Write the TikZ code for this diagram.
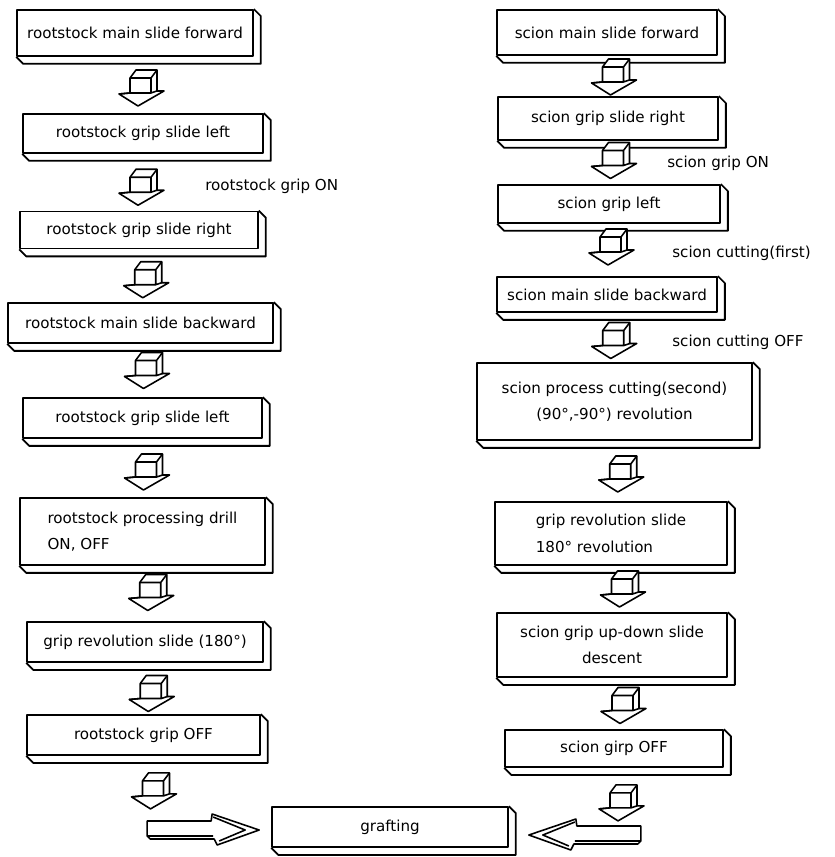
\documentclass[tikz,border=0pt]{standalone}
\usepackage{fontspec}
\setmainfont{DejaVu Sans}
\usetikzlibrary{calc, positioning}

\begin{document}
\begin{tikzpicture}[x=0.02cm, y=-0.02cm, line join=round,
	pics/blockdown/.style={code={
		\filldraw[line width=0.9pt, fill=white] (-10,-10) -- (-4,-18) -- (17,-18) -- (17,3) -- (24,3) -- (-2,18) -- (-21,6) -- (-10,5) -- cycle;
		\draw[line width=0.9pt] (-10,-10) -- (11,-10) -- (17,-18) (11,-10) -- (11,5) (-21,6) -- (-10,5) -- (11,5) -- (17,3);
	}},
	pics/blockright/.style={code={
		\filldraw[line width=0.9pt, fill=white] (-112,-9) -- (-48,-9) -- (-47,-16) -- (0,0) -- (-42,15) -- (-45,9) -- (-109,9) -- (-112,6) -- cycle;
		\draw[line width=0.9pt] (-112,6) -- (-46,6) (-46,-13) -- (-14,0) -- (-40,11);
	}}]
	\tikzstyle{stage} = [draw, line width=1pt, fill=white, inner sep=0pt, font=\fontsize{8.6}{15}\selectfont]
	\tikzstyle{note} = [anchor=west, inner sep=0pt, font=\fontsize{8.6}{15}\selectfont]

	\useasboundingbox (0,0) rectangle (834,857);

	% rootstock side
	\node[stage, minimum width=4.72cm, minimum height=0.92cm] (L1) at (135,33) {rootstock main slide forward};
	\node[stage, minimum width=4.8cm, minimum height=0.78cm] (L2) at (143,133.5) {rootstock grip slide left};
	\node[stage, minimum width=4.76cm, minimum height=0.74cm] (L3) at (139,230) {rootstock grip slide right};
	\node[stage, minimum width=5.3cm, minimum height=0.8cm] (L4) at (140.5,323) {rootstock main slide backward};
	\node[stage, minimum width=4.78cm, minimum height=0.8cm] (L5) at (142.5,418) {rootstock grip slide left};
	\node[stage, minimum width=4.9cm, minimum height=1.34cm, align=left] (L6) at (142.5,531.5) {rootstock processing drill\\ON, OFF};
	\node[stage, minimum width=4.72cm, minimum height=0.8cm] (L7) at (145,642) {grip revolution slide (180°)};
	\node[stage, minimum width=4.66cm, minimum height=0.8cm] (L8) at (143.5,735) {rootstock grip OFF};

	% scion side
	\node[stage, minimum width=4.4cm, minimum height=0.9cm] (R1) at (607,32.5) {scion main slide forward};
	\node[stage, minimum width=4.4cm, minimum height=0.86cm] (R2) at (608,118.5) {scion grip slide right};
	\node[stage, minimum width=4.44cm, minimum height=0.76cm] (R3) at (609,204) {scion grip left};
	\node[stage, minimum width=4.4cm, minimum height=0.7cm] (R4) at (607,294.5) {scion main slide backward};
	\node[stage, minimum width=5.5cm, minimum height=1.54cm, align=center] (R5) at (614.5,401.5) {scion process cutting(second)\\(90°,-90°) revolution};
	\node[stage, minimum width=4.64cm, minimum height=1.26cm, align=left] (R6) at (611,533.5) {grip revolution slide\\180° revolution};
	\node[stage, minimum width=4.6cm, minimum height=1.28cm, align=center] (R7) at (612,645) {scion grip up-down slide\\descent};
	\node[stage, minimum width=4.36cm, minimum height=0.74cm] (R8) at (614,748.5) {scion girp OFF};

	\node[stage, minimum width=4.72cm, minimum height=0.8cm] (G) at (390,827) {grafting};

	% depth of the boxes
	\foreach \n in {L1,L2,L3,L4,L5,L6,L7,L8,R1,R2,R3,R4,R5,R6,R7,R8,G}
		\draw[line width=1pt] (\n.north east) -- ++(7,7) -- ($(\n.south east)+(7,7)$) -- ($(\n.south west)+(7,7)$) -- (\n.south west);

	% block arrows
	\pic at ($(L1.south)!.5!(L2.north)+(1,3)$) {blockdown};
	\pic at ($(L2.south)!.5!(L3.north)+(-1,5)$) {blockdown};
	\pic at ($(L3.south)!.5!(L4.north)+(5,4)$) {blockdown};
	\pic at ($(L4.south)!.5!(L5.north)+(4,0)$) {blockdown};
	\pic at ($(L5.south)!.5!(L6.north)+(3,4)$) {blockdown};
	\pic at ($(L6.south)!.5!(L7.north)+(6,-1)$) {blockdown};
	\pic at ($(L7.south)!.5!(L8.north)+(6,5)$) {blockdown};
	\pic at ($(L8.south)+(9,35)$) {blockdown};

	\pic at ($(R1.south)!.5!(R2.north)+(5,1)$) {blockdown};
	\pic at ($(R2.south)!.5!(R3.north)+(4,-2)$) {blockdown};
	\pic at ($(R3.south)!.5!(R4.north)+(2,-3)$) {blockdown};
	\pic at ($(R4.south)!.5!(R5.north)+(2,3)$) {blockdown};
	\pic at ($(R5.south)!.5!(R6.north)+(7,3)$) {blockdown};
	\pic at ($(R6.south)!.5!(R7.north)+(10,0)$) {blockdown};
	\pic at ($(R7.south)!.5!(R8.north)+(9,2)$) {blockdown};
	\pic at ($(R8.south)+(6,35)$) {blockdown};

	\pic at ($(G.west)+(-12,3)$) {blockright};
	\pic[xscale=-1] at ($(G.east)+(20,8)$) {blockright};

	% side notes
	\node[note] (N1) at (205,186) {rootstock grip ON};
	\node[note] (N2) at (667,163) {scion grip ON};
	\node[note] (N3) at (672,253) {scion cutting(first)};
	\node[note] (N4) at (672,342) {scion cutting OFF};
\end{tikzpicture}
\end{document}
